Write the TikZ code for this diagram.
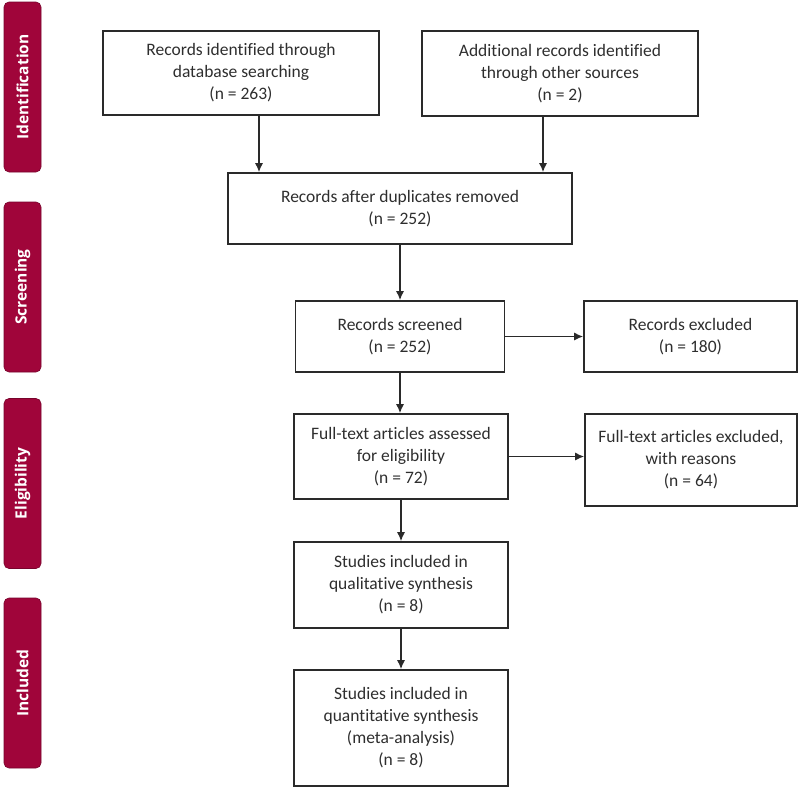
\documentclass[tikz,border=0pt]{standalone}
\usepackage{fontspec}
\setmainfont{Carlito}[Ligatures=NoCommon]
\newfontfamily\phasefont{Open Sans}
\usetikzlibrary{arrows.meta}
\definecolor{PrismaRed}{HTML}{A0053A}
\definecolor{PrismaLine}{HTML}{2A2A2A}
\definecolor{PrismaText}{HTML}{2E2E2E}

\begin{document}
\begin{tikzpicture}[x=1pt,y=-1pt,
    box/.style={draw=PrismaLine,line width=1.6pt,text=PrismaText,align=center,
      inner sep=0pt,font=\fontsize{17.5}{22}\selectfont},
    phase/.style={fill=PrismaRed,draw=PrismaRed!75!black,line width=0.6pt,rounded corners=5pt,
      rotate=90,minimum width=170pt,minimum height=37pt,inner sep=0pt,
      text=white,font=\phasefont\bfseries\fontsize{15.5}{17}\selectfont},
    arr/.style={draw=PrismaLine,line width=1.4pt,-{Latex[length=9pt,width=8pt]}}]
    \useasboundingbox (0,0) rectangle (800,787);
    % stage bars on the left
    \foreach \name/\y/\txt in {ident/87/Identification,screen/287/Screening,
      elig/483.5/Eligibility,incl/683/Included} {
      \node[phase] (\name) at (22.5,\y) {\txt};
    }
    % boxes
    \node[box,minimum width=276pt,minimum height=84pt] (found) at (241,73)
      {Records identified through\\database searching\\(n = 263)};
    \node[box,minimum width=276pt,minimum height=85pt] (other) at (560,73.5)
      {Additional records identified\\through other sources\\(n = 2)};
    \node[box,minimum width=344pt,minimum height=71pt] (dedup) at (400,208.5)
      {Records after duplicates removed\\(n = 252)};
    \node[box,minimum width=209pt,minimum height=71pt] (screened) at (400,336.5)
      {Records screened\\(n = 252)};
    \node[box,minimum width=213pt,minimum height=71pt] (excluded) at (690.5,336.5)
      {Records excluded\\(n = 180)};
    \node[box,minimum width=214pt,minimum height=85pt] (fulltext) at (401,456.5)
      {Full-text articles assessed\\for eligibility\\(n = 72)};
    \node[box,minimum width=212pt,minimum height=92pt] (ftexcl) at (691,460)
      {Full-text articles excluded,\\with reasons\\(n = 64)};
    \node[box,minimum width=214pt,minimum height=86pt] (qual) at (401,585)
      {Studies included in\\qualitative synthesis\\(n = 8)};
    \node[box,minimum width=214pt,minimum height=116pt] (quant) at (401,728)
      {Studies included in\\quantitative synthesis\\(meta-analysis)\\(n = 8)};
    % arrows
    \draw[arr] ([xshift=18pt]found.south) -- ([xshift=18pt]found.south |- dedup.north);
    \draw[arr] ([xshift=-17pt]other.south) -- ([xshift=-17pt]other.south |- dedup.north);
    \draw[arr] (dedup) -- (screened);
    \draw[arr] (screened) -- (excluded);
    \draw[arr] (screened.south) -- (screened.south |- fulltext.north);
    \draw[arr] (fulltext.east) -- (fulltext.east -| ftexcl.west);
    \draw[arr] (fulltext) -- (qual);
    \draw[arr] (qual) -- (quant);
\end{tikzpicture}
\end{document}
